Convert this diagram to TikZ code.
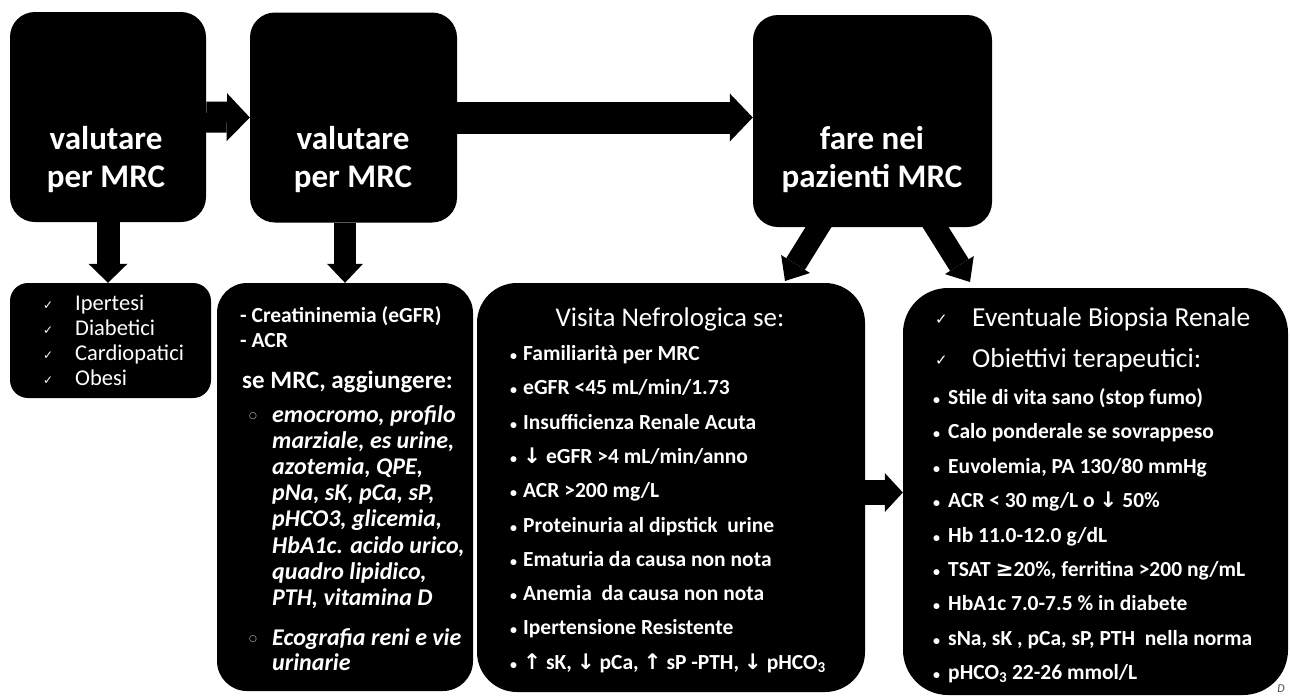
\documentclass[tikz,border=0pt]{standalone}
\usepackage{fontspec}
\setmainfont{Carlito}
\newfontfamily\symf{DejaVu Sans}
\usetikzlibrary{arrows.meta}
\newcommand\symtxt[1]{{\symf #1}}
\newcommand\blt{{\fontsize{14}{14}\selectfont •}}
\tikzset{
  box/.style={fill=black, draw=none, inner sep=0pt},
  title/.style={text=white, font=\fontsize{33}{38}\selectfont\bfseries, align=center, inner sep=0pt},
  barrow/.style n args={3}{draw=black, line width=#1, -{Triangle[width=#2,length=#3,line width=0pt]}},
  txt/.style={text=white, inner sep=0pt, anchor=base west},
  itemC/.style={txt, font=\fontsize{21.5}{21.5}\selectfont\bfseries},
  itemB/.style={txt, font=\fontsize{24}{24}\selectfont\bfseries\itshape},
}
\begin{document}
\begin{tikzpicture}[x=1pt,y=-1pt]
\useasboundingbox[fill=white] (0,0) rectangle (1290,697);
% boxes
\node[box, rounded corners=25pt, minimum width=196pt, minimum height=210pt] (b1) at (108,117) {};
\node[box, rounded corners=25pt, minimum width=207pt, minimum height=210pt] (b2) at (353.5,117.5) {};
\node[box, rounded corners=25pt, minimum width=239pt, minimum height=212pt] (b3) at (872.5,121) {};
\node[box, rounded corners=18pt, minimum width=201pt, minimum height=115pt] (bA) at (110.5,340.5) {};
\node[box, rounded corners=30pt, minimum width=256pt, minimum height=408pt] (bB) at (345,487) {};
\node[box, rounded corners=40pt, minimum width=388pt, minimum height=409pt] (bC) at (671,487.5) {};
\node[box, rounded corners=45pt, minimum width=385pt, minimum height=407pt] (bD) at (1095.5,491.5) {};
% arrows
\draw[barrow={31pt}{48pt}{23pt}] (b1.east) -- (b2.west);
\draw[barrow={32pt}{48pt}{23pt}] (b2.east) -- (b2.east -| b3.west);
\draw[barrow={23pt}{39pt}{19pt}] (b1.south) -- (b1.south |- bA.north);
\draw[barrow={22pt}{36pt}{19pt}] (b2.south -| bB.north) -- (bB.north);
\coordinate (l0) at (826,215);
\coordinate (l1) at (785,281);
\coordinate (r0) at (928,215);
\coordinate (r1) at (970,282);
\draw[barrow={22pt}{34pt}{20pt}] (l0) -- (l1);
\draw[barrow={22pt}{34pt}{20pt}] (r0) -- (r1);
\coordinate (cd) at (864,492.5);
\draw[barrow={25pt}{39pt}{18pt}] (cd) -- (cd -| bD.west);
% titles
\node[title] (t1) at (106,160) {valutare\\per MRC};
\node[title] (t2) at (353,160) {valutare\\per MRC};
\node[title] (t3) at (872,160) {fare nei\\pazienti MRC};
% box A
\foreach \s [count=\i from 0] in {Ipertesi, Diabetici, Cardiopatici, Obesi}
  \node[txt, font=\fontsize{22.5}{22.5}\selectfont] (a\i) at (75,{310.5+25*\i}) {\s};
\foreach \i in {0,...,3}
  \node[txt, font=\fontsize{12}{12}\selectfont\symf] (ak\i) at (43,{309+25*\i}) {✓};
% box B
\node[txt, font=\fontsize{21.5}{21.5}\selectfont\bfseries] (bb1) at (240,322) {- Creatininemia (eGFR)};
\node[txt, font=\fontsize{21.5}{21.5}\selectfont\bfseries] (bb2) at (240,347) {- ACR};
\node[txt, font=\fontsize{25}{25}\selectfont\bfseries] (bb3) at (242,388) {se MRC, aggiungere:};
\foreach \s [count=\i from 0] in {{emocromo, profilo}, {marziale, es urine,}, {azotemia, QPE,}, {pNa, sK, pCa, sP,}, {pHCO3, glicemia,}, {HbA1c. acido urico,}, {quadro lipidico,}, {PTH, vitamina D}}
  \node[itemB] (bi\i) at (272,{422+26.2*\i}) {\s};
\node[itemB] (be1) at (272,645) {Ecografia reni e vie};
\node[itemB] (be2) at (272,670) {urinarie};
\node[txt, font=\fontsize{9}{9}\selectfont\symf, text=white!80!black] (bo1) at (249,418) {○};
\node[txt, font=\fontsize{9}{9}\selectfont\symf, text=white!80!black] (bo2) at (249,641) {○};
% box C
\node[text=white, font=\fontsize{27}{27}\selectfont, inner sep=0pt, anchor=base] (ct) at (670,326) {Visita Nefrologica se:};
\foreach \s [count=\i from 0] in {{Familiarità per MRC}, {eGFR <45 mL/min/1.73}, {Insufficienza Renale Acuta}, {\symtxt{↓} eGFR >4 mL/min/anno}, {ACR >200 mg/L}, {Proteinuria al dipstick\ \ urine}, {Ematuria da causa non nota}, {Anemia\ \ da causa non nota}, {Ipertensione Resistente}, {\symtxt{↑} sK, \symtxt{↓} pCa, \symtxt{↑} sP -PTH, \symtxt{↓} pHCO\textsubscript{3}}}
  \node[itemC] (c\i) at (510,{360.5+34.3*\i}) {\makebox[13pt][l]{\blt}\s};
% box D
\node[txt, font=\fontsize{15}{15}\selectfont\symf] (dk1) at (935,324) {✓};
\node[txt, font=\fontsize{15}{15}\selectfont\symf] (dk2) at (935,365) {✓};
\node[txt, font=\fontsize{27.5}{27.5}\selectfont] (dt1) at (972,326) {Eventuale Biopsia Renale};
\node[txt, font=\fontsize{27.5}{27.5}\selectfont] (dt2) at (972,367) {Obiettivi terapeutici:};
\foreach \s [count=\i from 0] in {{Stile di vita sano (stop fumo)}, {Calo ponderale se sovrappeso}, {Euvolemia, PA 130/80 mmHg}, {ACR < 30 mg/L o \symtxt{↓} 50\%}, {Hb 11.0-12.0 g/dL}, {TSAT \symtxt{≥}20\%, ferritina >200 ng/mL}, {HbA1c 7.0-7.5 \% in diabete}, {sNa, sK , pCa, sP, PTH\ \ nella norma}, {pHCO\textsubscript{3} 22-26 mmol/L}}
  \node[itemC] (d\i) at (933,{404.5+34.4*\i}) {\makebox[15pt][l]{\blt}\s};
\node[text=black!70, font=\fontsize{12}{12}\selectfont\itshape, inner sep=0pt] (stamp) at (1281,689) {D};
\end{tikzpicture}
\end{document}
